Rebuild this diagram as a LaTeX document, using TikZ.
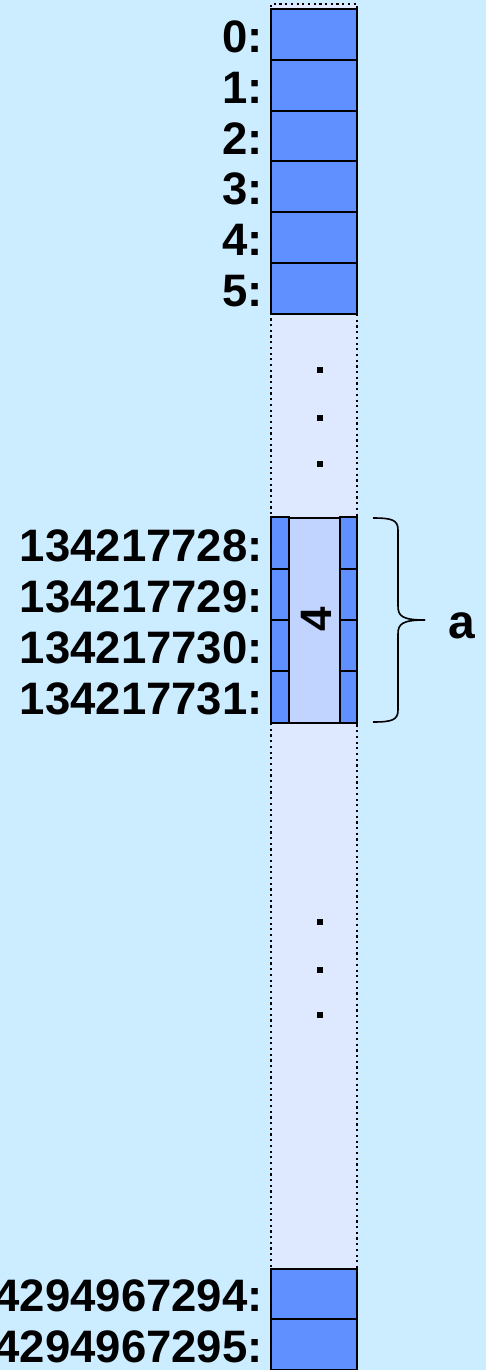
\documentclass[tikz,border=0pt]{standalone}
\usepackage{fontspec}
\setmainfont{Liberation Sans}
\definecolor{bgblue}{RGB}{204,236,255}
\definecolor{colfill}{RGB}{222,232,255}
\definecolor{cellblue}{RGB}{96,144,255}
\definecolor{innerblue}{RGB}{192,212,255}
\tikzset{
  cell/.style={draw=black, line width=2pt, fill=cellblue, minimum width=86pt, minimum height=50.8pt, inner sep=0pt},
  halfcell/.style={draw=black, line width=2pt, fill=cellblue, minimum height=51.25pt, inner sep=0pt},
  addr/.style={anchor=base east, inner sep=0pt, font=\fontsize{45.5}{50}\selectfont\bfseries},
  dotsq/.style={fill=black, minimum size=6pt, inner sep=0pt},
  coldots/.style={draw=black, line width=2.2pt, dash pattern=on 2.2pt off 3.5pt}
}
\begin{document}
\begin{tikzpicture}[x=1pt,y=-1pt]
\useasboundingbox[fill=bgblue] (0,0) rectangle (486,1370);
% dotted column
\fill[colfill] (271,4) rectangle (357,1375);
\draw[coldots] (271,1375) -- (271,4) -- (357,4) -- (357,1375);
% top cells
\foreach \i/\y in {0/34.4,1/85.2,2/136,3/186.8,4/237.6,5/288.4}{
  \node[cell] (c\i) at (314,\y) {};
  \node[addr] (l\i) at (263,\y+18) {\i:};
}
% middle block
\node[draw=black, line width=2pt, fill=innerblue, minimum width=51pt, minimum height=205pt, inner sep=0pt] (inner) at (314.5,620) {};
\foreach \n/\y in {134217728/543.1,134217729/594.4,134217730/645.6,134217731/696.9}{
  \node[halfcell, minimum width=18pt] (L\n) at (280,\y) {};
  \node[halfcell, minimum width=17pt] (R\n) at (348.5,\y) {};
  \node[addr] (l\n) at (263,\y+18) {\n:};
}
\node[rotate=90, inner sep=0pt, font=\fontsize{44}{48}\selectfont\bfseries] (four) at (316,619) {4};
% bottom cells
\node[cell] (cb1) at (314,1293.9) {};
\node[cell] (cb2) at (314,1344.7) {};
\node[addr] (lb1) at (263,1293.9+18) {4294967294:};
\node[addr] (lb2) at (263,1344.7+18) {4294967295:};
% dots
\foreach \k/\y in {1/370,2/418,3/464,4/922,5/970,6/1015}{
  \node[dotsq] (d\k) at (320,\y) {};
}
% brace
\coordinate (bt) at (373,518);
\coordinate (bb) at (373,722);
\coordinate (tip) at (425,620);
\draw[line width=1.6pt] (bt) .. controls (392,518) and (398,520) .. (398,530) -- (398,606)
  .. controls (398,616) and (402,620) .. (tip);
\draw[line width=1.6pt] (bb) .. controls (392,722) and (398,720) .. (398,710) -- (398,634)
  .. controls (398,624) and (402,620) .. (tip);
\node[anchor=base, inner sep=0pt, font=\fontsize{48}{52}\selectfont\bfseries] (a) at (462,638) {a};
\end{tikzpicture}
\end{document}
